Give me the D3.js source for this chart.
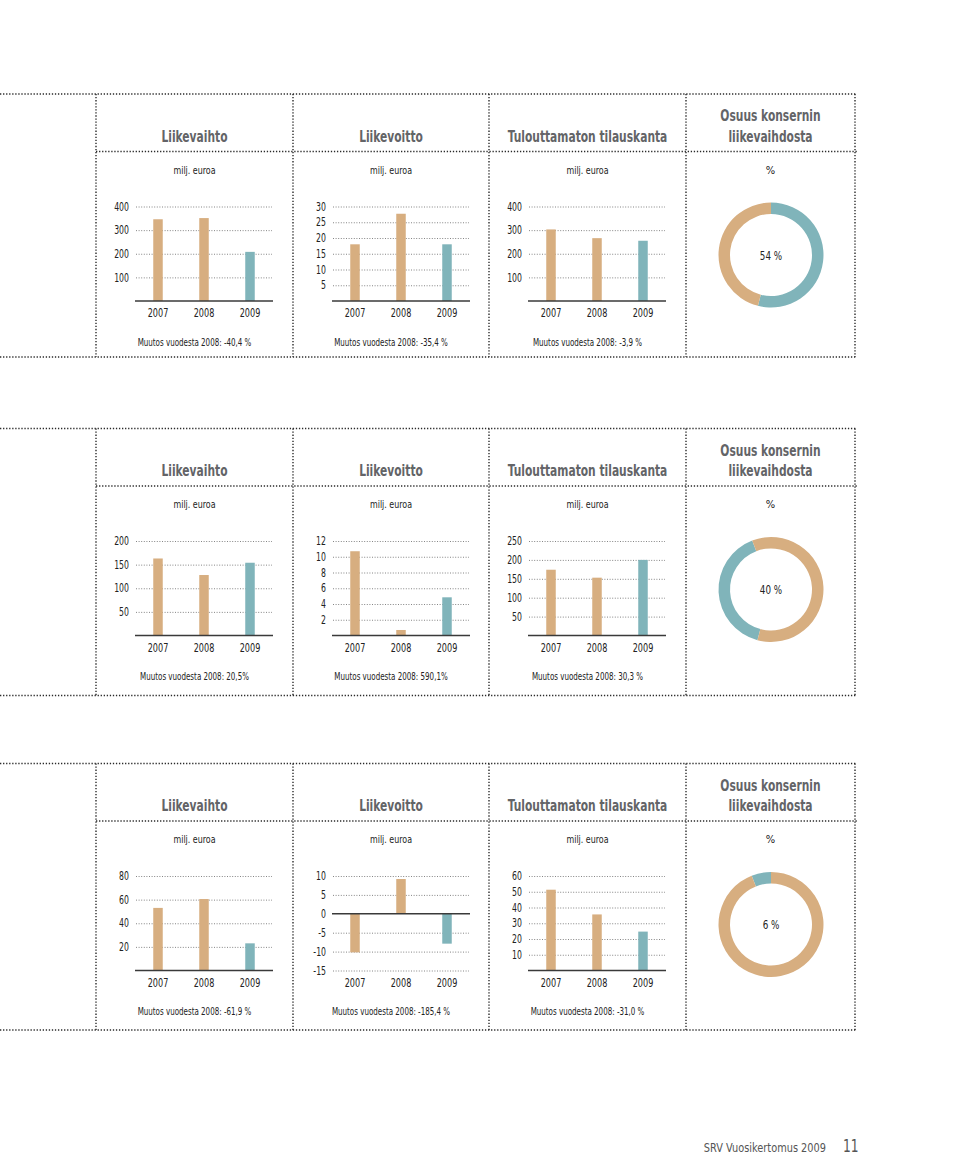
<!DOCTYPE html>
<html><head><meta charset="utf-8">
<script src="https://cdn.jsdelivr.net/npm/d3@7/dist/d3.min.js"></script>
<style>
body{margin:0;background:#fff;}
svg{display:block;font-family:"DejaVu Sans Condensed","DejaVu Sans",sans-serif;}
</style></head>
<body>
<script>
// ---- data ----
const years = ["2007", "2008", "2009"];
const chartTitles = ["Liikevaihto", "Liikevoitto", "Tulouttamaton tilauskanta"];
const unitLabels = ["milj. euroa", "milj. euroa", "milj. euroa"];
const shareTitle = ["Osuus konsernin", "liikevaihdosta"];
const shareUnit = "%";

// segment 1
const seg1Values = [[346, 351, 208], [18.0, 27.7, 18.0], [303, 266, 255]];
const seg1Ticks = [[100, 200, 300, 400], [5, 10, 15, 20, 25, 30], [100, 200, 300, 400]];
const seg1Change = ["Muutos vuodesta 2008: -40,4 %", "Muutos vuodesta 2008: -35,4 %", "Muutos vuodesta 2008: -3,9 %"];
const seg1Share = 54;
const seg1ShareStart = 0;      // degrees, where the share arc starts

// segment 2
const seg2Values = [[163, 128, 154], [10.7, 0.7, 4.85], [174, 153, 200]];
const seg2Ticks = [[50, 100, 150, 200], [2, 4, 6, 8, 10, 12], [50, 100, 150, 200, 250]];
const seg2Change = ["Muutos vuodesta 2008: 20,5%", "Muutos vuodesta 2008: 590,1%", "Muutos vuodesta 2008: 30,3 %"];
const seg2Share = 40;
const seg2ShareStart = 195;

// segment 3
const seg3Values = [[53, 60.5, 23], [-10.2, 9.2, -7.9], [51.3, 35.6, 24.7]];
const seg3Ticks = [[20, 40, 60, 80], [-15, -10, -5, 0, 5, 10], [10, 20, 30, 40, 50, 60]];
const seg3Change = ["Muutos vuodesta 2008: -61,9 %", "Muutos vuodesta 2008: -185,4 %", "Muutos vuodesta 2008: -31,0 %"];
const seg3Share = 6;
const seg3ShareStart = -21.6;

const footerText = "SRV Vuosikertomus 2009";
const pageNumber = "11";

// ---- layout / style ----
const TAN = "#d7ae80", TEAL = "#80b4ba";
const sections = [
  {top: 94, bottom: 357, values: seg1Values, ticks: seg1Ticks, change: seg1Change, share: seg1Share, start: seg1ShareStart},
  {top: 428.5, bottom: 695.5, values: seg2Values, ticks: seg2Ticks, change: seg2Change, share: seg2Share, start: seg2ShareStart},
  {top: 763.5, bottom: 1030, values: seg3Values, ticks: seg3Ticks, change: seg3Change, share: seg3Share, start: seg3ShareStart}
];
const cellX = [96, 293, 489, 686, 855];

const svg = d3.select("body").append("svg").attr("width", 960).attr("height", 1155);

// squeeze text horizontally to imitate the narrow original typeface
function condense(sel, f) {
  sel.each(function () {
    const L = this.getComputedTextLength();
    d3.select(this).attr("textLength", L * f).attr("lengthAdjust", "spacingAndGlyphs");
  });
  return sel;
}

function dotted(x1, y1, x2, y2) {
  svg.append("line").attr("x1", x1).attr("y1", y1).attr("x2", x2).attr("y2", y2)
    .attr("stroke", "#2a2a2a").attr("stroke-width", 1.4).attr("stroke-dasharray", "1.3,1.75");
}

function title(x, y, txt) {
  svg.append("text").attr("x", x).attr("y", y).attr("text-anchor", "middle")
    .attr("font-size", 16.5).attr("font-weight", "bold").attr("fill", "#636467").text(txt)
    .call(condense, 0.72);
}

sections.forEach(sec => {
  const T = sec.top, B = sec.bottom;
  dotted(0, T, 857, T);
  dotted(0, B, 857, B);
  dotted(96, T + 57.5, 857, T + 57.5);
  cellX.forEach(x => dotted(x, T, x, B));

  // bar charts
  for (let i = 0; i < 3; i++) {
    const cx = cellX[i];
    const mid = (cellX[i] + cellX[i + 1]) / 2;
    title(mid, T + 47.5, chartTitles[i]);
    svg.append("text").attr("x", mid).attr("y", T + 79.5).attr("text-anchor", "middle")
      .attr("font-size", 11).attr("fill", "#222").text(unitLabels[i]).call(condense, 0.8);

    const ticks = sec.ticks[i];
    const ymin = Math.min(0, d3.min(ticks));
    const ymax = d3.max(ticks);
    const y = d3.scaleLinear().domain([ymin, ymax]).range([T + 207, T + 112.5]);
    const x = d3.scalePoint().domain(years).range([cx + 39, cx + 177]).padding(0.5);

    const ax = svg.append("g").attr("transform", `translate(${cx + 40},0)`)
      .call(d3.axisLeft(y).tickValues(ticks).tickSize(-136).tickPadding(7).tickFormat(d => String(d)));
    ax.select(".domain").remove();
    ax.selectAll(".tick line").attr("stroke", "#777").attr("stroke-width", 0.9).attr("stroke-dasharray", "1,1.6")
      .attr("display", d => d === 0 ? "none" : null);
    ax.selectAll(".tick text").attr("font-size", 11.5).attr("fill", "#222")
      .attr("font-family", "'DejaVu Sans Condensed',sans-serif").call(condense, 0.75);

    svg.selectAll(null).data(sec.values[i]).enter().append("rect")
      .attr("x", (d, j) => x(years[j]) - 4.75)
      .attr("width", 9.5)
      .attr("y", d => y(Math.max(0, d)))
      .attr("height", d => Math.abs(y(d) - y(0)))
      .attr("fill", (d, j) => j === 2 ? TEAL : TAN);

    svg.append("line").attr("x1", cx + 39).attr("x2", cx + 177).attr("y1", y(0)).attr("y2", y(0))
      .attr("stroke", "#3a3a3a").attr("stroke-width", 1.6);

    svg.selectAll(null).data(years).enter().append("text")
      .attr("x", d => x(d)).attr("y", T + 207 + 16).attr("text-anchor", "middle")
      .attr("font-size", 12).attr("fill", "#222").text(d => d).call(condense, 0.75);

    svg.append("text").attr("x", mid).attr("y", T + 251.5).attr("text-anchor", "middle")
      .attr("font-size", 11).attr("fill", "#222").text(sec.change[i]).call(condense, 0.72);
  }

  // share donut
  const mid = (cellX[3] + cellX[4]) / 2;
  title(mid, T + 27, shareTitle[0]);
  title(mid, T + 47.5, shareTitle[1]);
  svg.append("text").attr("x", mid).attr("y", T + 79.5).attr("text-anchor", "middle")
    .attr("font-size", 11).attr("fill", "#222").text(shareUnit);

  const start = sec.start * Math.PI / 180;
  const pie = d3.pie().sort(null).value(d => d.v).startAngle(start).endAngle(start + 2 * Math.PI);
  const arcs = pie([{v: sec.share, c: TEAL}, {v: 100 - sec.share, c: TAN}]);
  const arc = d3.arc().innerRadius(41).outerRadius(52.5);
  const g = svg.append("g").attr("transform", `translate(${mid + 0.5},${T + 161})`);
  g.selectAll("path").data(arcs).enter().append("path").attr("d", arc).attr("fill", d => d.data.c);
  g.append("text").attr("y", 4.5).attr("text-anchor", "middle").attr("font-size", 12.5)
    .attr("fill", "#222").text(sec.share + " %").call(condense, 0.78);
});

// footer
svg.append("text").attr("x", 826).attr("y", 1152).attr("text-anchor", "end")
  .attr("font-size", 12.5).attr("fill", "#555").text(footerText).call(condense, 0.87);
svg.append("text").attr("x", 843).attr("y", 1152).attr("font-size", 17).attr("fill", "#555")
  .attr("font-weight", 300).text(pageNumber).call(condense, 0.8);
</script>
</body></html>
